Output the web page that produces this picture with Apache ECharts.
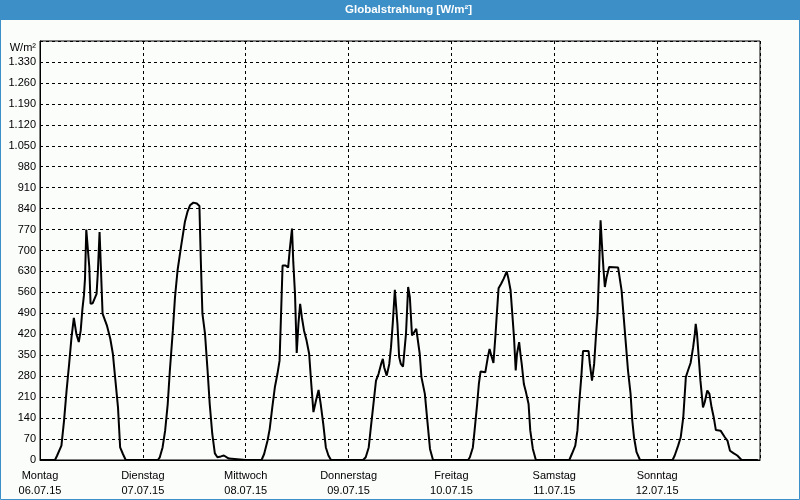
<!DOCTYPE html>
<html>
<head>
<meta charset="utf-8">
<script src="https://cdn.jsdelivr.net/npm/echarts@6/dist/echarts.min.js"></script>
<style>
html,body{margin:0;padding:0;background:#fbfdfb;}
#chart{width:800px;height:500px;}
</style>
</head>
<body>
<div id="chart"></div>
<script>
// Tick labels
const dayNames = ['Montag','Dienstag','Mittwoch','Donnerstag','Freitag','Samstag','Sonntag'];
const dayDates = ['06.07.15','07.07.15','08.07.15','09.07.15','10.07.15','11.07.15','12.07.15'];
const titleText = 'Globalstrahlung [W/m²]';
const unitLabel = 'W/m²';

// Global radiation per day: [hour of day, W/m²]
const montag = [[0,0],[3.5,0],[4.0,15],[5.0,48],[5.6,130],[6.2,232],[6.8,321],[7.35,410],[7.9,475],[8.5,420],[9.05,394],[9.5,433],[9.9,505],[10.25,550],[10.5,606],[10.8,770],[11.2,770],[11.5,645],[11.8,522],[12.3,524],[13.2,555],[13.5,628],[13.9,762],[14.1,756],[14.6,489],[15.6,450],[16.4,405],[17.0,355],[17.6,265],[18.2,176],[18.7,42],[19.35,20],[20.0,0],[24,0]];
const dienstag = [[3.5,0],[3.95,9],[4.6,42],[5.2,98],[5.8,187],[6.3,299],[7.0,433],[7.5,544],[8.1,634],[8.9,712],[9.8,795],[10.4,829],[11.0,851],[11.8,860],[12.6,857],[13.2,849],[13.35,762],[13.5,678],[13.9,489],[14.5,422],[15.1,299],[15.6,187],[16.2,87],[16.8,22],[17.4,9],[18.2,12],[18.9,15],[19.6,9],[20.1,5],[20.4,0],[24,0]];
const mittwoch = [[3.7,0],[4.3,20],[5.1,65],[5.6,104],[6.2,176],[6.8,243],[7.4,288],[7.9,332],[8.2,466],[8.6,650],[9.3,650],[9.9,643],[10.3,706],[10.8,773],[11.1,661],[11.5,555],[11.9,358],[12.3,455],[12.7,522],[13.1,477],[13.6,433],[14.2,399],[14.8,355],[15.3,254],[15.8,160],[16.4,199],[17.0,234],[17.5,187],[18.1,120],[18.7,42],[19.3,15],[19.9,0],[24,0]];
const donnerstag = [[3.4,0],[4.0,9],[4.7,42],[5.2,109],[5.8,187],[6.4,265],[7.0,288],[7.6,321],[8.0,338],[8.3,310],[8.9,282],[9.5,321],[9.9,377],[10.3,455],[10.8,569],[11.0,567],[11.4,455],[11.8,344],[12.2,321],[12.7,312],[13.4,422],[13.9,578],[14.3,544],[14.8,416],[15.3,427],[15.8,438],[16.6,355],[17.0,277],[17.8,221],[18.3,143],[19.0,37],[19.7,0],[24,0]];
const freitag = [[3.9,0],[4.3,9],[5.0,42],[5.4,98],[6.0,187],[6.4,254],[6.8,296],[7.9,293],[8.5,344],[8.9,371],[9.3,349],[9.8,324],[10.3,422],[10.6,489],[11.0,574],[11.6,589],[12.2,606],[12.9,630],[13.3,606],[13.8,567],[14.2,489],[14.6,410],[15.0,299],[15.3,355],[15.8,394],[16.1,355],[16.4,321],[16.9,254],[17.4,226],[18.0,187],[18.4,98],[19.0,37],[19.7,0],[24,0]];
const samstag = [[3.5,0],[4.1,20],[4.9,48],[5.4,98],[5.8,187],[6.3,277],[6.7,364],[8.0,364],[8.3,321],[8.8,265],[9.3,321],[9.7,410],[10.1,489],[10.4,611],[10.8,801],[11.1,723],[11.5,634],[11.8,578],[12.2,611],[12.8,645],[14.9,643],[15.1,641],[15.7,567],[16.2,477],[16.7,388],[17.2,299],[17.8,221],[18.2,132],[18.6,76],[19.2,26],[20.0,0],[24,0]];
const sonntag = [[3.6,0],[4.1,15],[4.9,48],[5.5,76],[6.1,143],[6.7,277],[7.2,299],[7.8,324],[8.4,377],[8.8,422],[9.0,455],[9.3,422],[9.7,344],[10.1,265],[10.7,176],[11.1,193],[11.7,232],[12.2,221],[12.7,176],[13.2,143],[13.7,100],[14.8,98],[15.8,76],[16.4,65],[17.0,31],[17.8,23],[18.7,15],[19.7,0],[23.5,0]];

const days = [montag, dienstag, mittwoch, donnerstag, freitag, samstag, sonntag];
const seriesData = [];
days.forEach((d, i) => d.forEach(p => seriesData.push([i * 24 + p[0], p[1]])));

function fmtNum(v){ return String(v).replace(/\B(?=(\d{3})+(?!\d))/g, '.'); }

const FONT = '"Liberation Sans", Arial, sans-serif';
const chart = echarts.init(document.getElementById('chart'), null, {renderer:'canvas'});
chart.setOption({
  backgroundColor: '#fbfdfb',
  animation: false,
  title: {
    text: titleText,
    left: 345,
    top: 3,
    padding: 0,
    textStyle: {color:'#ffffff', fontFamily: FONT, fontSize: 11.5, fontWeight: 'bold', lineHeight: 14}
  },
  graphic: [
    {type:'rect', z:-10, silent:true, shape:{x:0,y:0,width:800,height:20}, style:{fill:'#3c8fc7'}},
    {type:'rect', z:100, silent:true, shape:{x:0.5,y:0.5,width:799,height:499}, style:{fill:null, stroke:'#3c8fc7', lineWidth:1}}
  ],
  grid: {left:40, right:40, top:41, bottom:40, show:true, borderColor:'#000', borderWidth:1, backgroundColor:'transparent'},
  xAxis: {
    type:'value', min:0, max:168, interval:24,
    axisLine:{show:true, lineStyle:{color:'#000', width:1}},
    axisTick:{show:false},
    splitLine:{show:true, lineStyle:{color:'#000', width:1, type:[3,3]}},
    axisLabel:{
      color:'#000', fontFamily: FONT, fontSize:11, lineHeight:15, margin:8,
      formatter: v => { const i = Math.round(v/24); return (i < dayNames.length) ? dayNames[i] + '\n' + dayDates[i] : ''; }
    }
  },
  yAxis: {
    type:'value', min:0, max:1400, interval:70,
    name: unitLabel, nameLocation:'end', nameGap:0,
    nameTextStyle:{color:'#000', fontFamily: FONT, fontSize:11, align:'right', verticalAlign:'top', padding:[1,4,0,0]},
    axisLine:{show:true, lineStyle:{color:'#000', width:1}},
    axisTick:{show:false},
    splitLine:{show:true, lineStyle:{color:'#000', width:1, type:[3,3]}},
    axisLabel:{color:'#000', fontFamily: FONT, fontSize:11, margin:4,
      formatter: v => v >= 1400 ? '' : fmtNum(v)}
  },
  series: [{
    type:'line', data: seriesData, showSymbol:false, symbol:'none',
    lineStyle:{color:'#000', width:2}, clip:true
  }]
});
</script>
</body>
</html>
